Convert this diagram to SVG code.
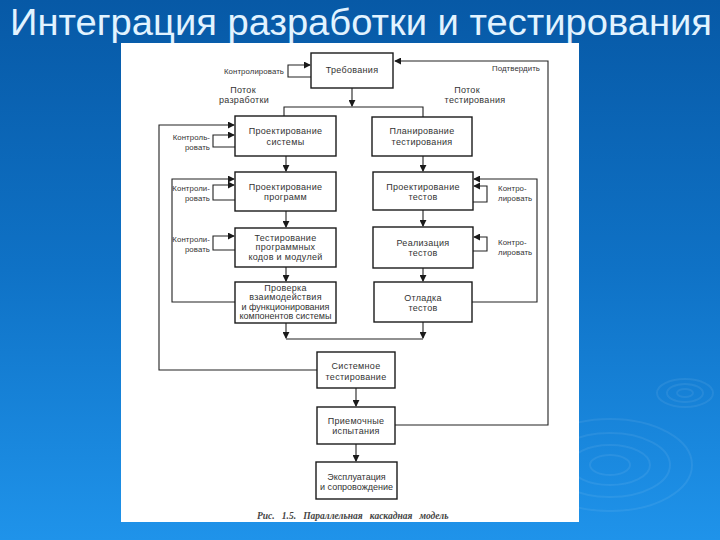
<svg xmlns="http://www.w3.org/2000/svg" width="720" height="540" viewBox="0 0 720 540">
<defs>
<linearGradient id="bg" x1="0" y1="0" x2="0" y2="1">
<stop offset="0" stop-color="#0759a6"/>
<stop offset="0.5" stop-color="#0f72c6"/>
<stop offset="1" stop-color="#1f93ea"/>
</linearGradient>
<marker id="ah" viewBox="0 0 8 8" refX="7" refY="4" markerWidth="7" markerHeight="7" markerUnits="userSpaceOnUse" orient="auto">
<path d="M0,0 L8,4 L0,8 z" fill="#1a1a1a"/>
</marker>
<style>
.box{fill:#fff;stroke:#1a1a1a;stroke-width:1.4}
.ln{fill:none;stroke:#222;stroke-width:1.1}
.arr{fill:none;stroke:#222;stroke-width:1.1;marker-end:url(#ah)}
.t{font-family:"Liberation Sans",Arial,sans-serif;font-size:9px;letter-spacing:0.3px;fill:#333;text-anchor:middle}
.tn{letter-spacing:0px}
.s{font-family:"Liberation Sans",Arial,sans-serif;font-size:7.8px;letter-spacing:0.1px;fill:#333}
.rp{fill:none;stroke:#ffffff;stroke-opacity:0.07;stroke-width:2}
</style>
</defs>
<rect width="720" height="540" fill="url(#bg)"/>
<g id="ripples">
<ellipse class="rp" cx="685" cy="393" rx="8" ry="4"/>
<ellipse class="rp" cx="685" cy="393" rx="18" ry="9"/>
<ellipse class="rp" cx="685" cy="393" rx="28" ry="14"/>
<ellipse class="rp" cx="610" cy="465" rx="20" ry="10"/>
<ellipse class="rp" cx="610" cy="465" rx="40" ry="20"/>
<ellipse class="rp" cx="610" cy="465" rx="60" ry="32"/>
<ellipse class="rp" cx="610" cy="465" rx="82" ry="46"/>
</g>
<text x="10" y="35" font-family="'Liberation Sans',Arial,sans-serif" font-size="37" textLength="702" lengthAdjust="spacingAndGlyphs" fill="#e2f3ff">Интеграция разработки и тестирования</text>
<rect id="panel" x="121" y="43" width="458" height="479" fill="#ffffff"/>

<g id="connectors">
<path class="arr" d="M311,77 H288 V65 H310"/>
<path class="arr" d="M395,425 H548 V61 H395"/>
<path class="arr" d="M352,88 V106"/>
<path class="ln" d="M284,116 V107 H423 V117"/>
<path class="arr" d="M235,147 H213 V135 H234"/>
<path class="arr" d="M317,370 H159 V125 H234"/>
<path class="arr" d="M286,156 V171"/>
<path class="arr" d="M423,156 V171"/>
<path class="arr" d="M235,200 H213 V185 H234"/>
<path class="arr" d="M235,302 H172 V179 H234"/>
<path class="arr" d="M473,202 H487 V186 H474"/>
<path class="arr" d="M472,302 H537 V179 H474"/>
<path class="arr" d="M286,211 V227"/>
<path class="arr" d="M423,210 V226"/>
<path class="arr" d="M235,250 H213 V236 H234"/>
<path class="arr" d="M473,251 H487 V237 H474"/>
<path class="arr" d="M286,267 V281"/>
<path class="arr" d="M423,268 V281"/>
<path class="arr" d="M286,323 V338"/>
<path class="arr" d="M423,322 V338"/>
<path class="ln" d="M286,339 H423"/>
<path class="arr" d="M356,388 V406"/>
<path class="arr" d="M356,444 V461"/>
</g>

<g id="labels">
<text class="s" x="284" y="74" text-anchor="end">Контролировать</text>
<text class="s" x="516" y="71" text-anchor="middle">Подтвердить</text>
<text class="t" x="243" y="93">Поток</text>
<text class="t" x="244" y="103">разработки</text>
<text class="t" x="467" y="93">Поток</text>
<text class="t" x="475" y="103">тестирования</text>
<text class="s" x="210" y="140" text-anchor="end">Контроль-</text>
<text class="s" x="210" y="150" text-anchor="end">ровать</text>
<text class="s" x="210" y="191" text-anchor="end">Контроли-</text>
<text class="s" x="210" y="201" text-anchor="end">ровать</text>
<text class="s" x="210" y="242" text-anchor="end">Контроли-</text>
<text class="s" x="210" y="252" text-anchor="end">ровать</text>
<text class="s" x="498" y="191">Контро-</text>
<text class="s" x="498" y="201">лировать</text>
<text class="s" x="498" y="245">Контро-</text>
<text class="s" x="498" y="255">лировать</text>
</g>

<g id="req"><rect class="box" x="311" y="53" width="82" height="35"/><text class="t" x="352" y="73">Требования</text></g>
<g id="psys"><rect class="box" x="235" y="116" width="101" height="40"/><text class="t" x="285.5" y="134">Проектирование</text><text class="t" x="285.5" y="145">системы</text></g>
<g id="ptest"><rect class="box" x="372" y="117" width="100" height="39"/><text class="t" x="422" y="134">Планирование</text><text class="t" x="422" y="145">тестирования</text></g>
<g id="pprog"><rect class="box" x="235" y="172" width="101" height="39"/><text class="t" x="285.5" y="190">Проектирование</text><text class="t" x="285.5" y="200">программ</text></g>
<g id="ptests"><rect class="box" x="373" y="172" width="100" height="38"/><text class="t" x="423" y="190">Проектирование</text><text class="t" x="423" y="200">тестов</text></g>
<g id="tcode"><rect class="box" x="235" y="228" width="101" height="39"/><text class="t" x="285.5" y="241">Тестирование</text><text class="t" x="285.5" y="250">программных</text><text class="t" x="285.5" y="260">кодов и модулей</text></g>
<g id="real"><rect class="box" x="373" y="227" width="100" height="41"/><text class="t" x="423" y="246">Реализация</text><text class="t" x="423" y="256">тестов</text></g>
<g id="check"><rect class="box" x="235" y="282" width="101" height="41"/><text class="t" x="285.5" y="291">Проверка</text><text class="t" x="285.5" y="300">взаимодействия</text><text class="t tn" x="285.5" y="309.5">и функционирования</text><text class="t tn" x="285.5" y="319">компонентов системы</text></g>
<g id="debug"><rect class="box" x="374" y="282" width="98" height="40"/><text class="t" x="423" y="301">Отладка</text><text class="t" x="423" y="311">тестов</text></g>
<g id="systest"><rect class="box" x="317" y="352" width="78" height="36"/><text class="t" x="356" y="369">Системное</text><text class="t" x="356" y="380">тестирование</text></g>
<g id="accept"><rect class="box" x="317" y="407" width="78" height="37"/><text class="t" x="356" y="424">Приемочные</text><text class="t" x="356" y="434">испытания</text></g>
<g id="expl"><rect class="box" x="316" y="462" width="81" height="37"/><text class="t tn" x="356.5" y="480">Эксплуатация</text><text class="t tn" x="356.5" y="490">и сопровождение</text></g>

<text x="257" y="519" font-family="'Liberation Serif','Times New Roman',serif" font-style="italic" font-weight="bold" font-size="9.5" fill="#444" xml:space="preserve">Рис.   1.5.   Параллельная   каскадная   модель</text>
</svg>
